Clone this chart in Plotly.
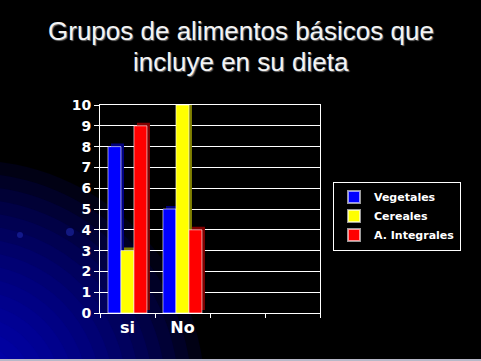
import plotly.graph_objects as go

# ---- data ----
categories = ["si", "No", " ", "  "]
series_names = ["Vegetales", "Cereales", "A. Integrales"]
vegetales = [8, 5]
cereales = [3, 10]
integrales = [9, 4]
y_ticks = list(range(0, 11))

front_colors = ["#0000ff", "#ffff00", "#ff0000"]
side_colors = ["#000080", "#808000", "#800000"]
values = [vegetales, cereales, integrales]

W, H = 481, 361
L, R, T, B = 100, 320, 105, 313


def px_x(x):
    return (x - L) / (R - L)


def px_y(y):
    return (B - y) / (B - T)


fig = go.Figure()

bar_w = 0.236
offsets = [-0.355, -0.119, 0.117]

# depth (side) faces first
for i in range(3):
    fig.add_trace(go.Bar(
        x=categories[:2], y=values[i], base=0.15,
        offset=offsets[i] + 0.055, width=bar_w,
        marker=dict(color=side_colors[i], line=dict(width=0)),
        showlegend=False, hoverinfo="skip"))

# front faces
for i in range(3):
    fig.add_trace(go.Bar(
        x=categories[:2], y=values[i], name=series_names[i],
        offset=offsets[i], width=bar_w,
        marker=dict(color=front_colors[i],
                    line=dict(color="rgba(255,255,255,0.6)", width=1))))

# background radial gradient (lower-left)
shapes = []
cx, cy = -30, 395
for k in range(16):
    r = 235 - k * 13
    shapes.append(dict(type="circle", xref="paper", yref="paper", layer="below",
                       x0=px_x(cx - r), x1=px_x(cx + r),
                       y0=px_y(cy + r), y1=px_y(cy - r),
                       fillcolor="rgb(10,10,220)", opacity=0.09,
                       line=dict(width=0)))
# faint decorative dots
for (dx, dy, rr) in [(20, 235, 3), (70, 232, 4)]:
    shapes.append(dict(type="circle", xref="paper", yref="paper", layer="below",
                       x0=px_x(dx - rr), x1=px_x(dx + rr),
                       y0=px_y(dy + rr), y1=px_y(dy - rr),
                       fillcolor="rgb(30,40,170)", opacity=0.6,
                       line=dict(width=0)))
# bottom light strip
shapes.append(dict(type="rect", xref="paper", yref="paper", layer="below",
                   x0=px_x(0), x1=px_x(W), y0=px_y(361), y1=px_y(359),
                   fillcolor="#b8b8c8", line=dict(width=0)))

title_font = dict(family="Liberation Sans, Arial, sans-serif", size=26,
                  color="#f4f4f4", shadow="1px 1px 1px #707070")
annotations = [
    dict(text="Grupos de alimentos básicos que", x=px_x(240.5), y=px_y(31),
         xref="paper", yref="paper", showarrow=False, font=title_font,
         xanchor="center", yanchor="middle"),
    dict(text="incluye en su dieta", x=px_x(240.5), y=px_y(62),
         xref="paper", yref="paper", showarrow=False, font=title_font,
         xanchor="center", yanchor="middle"),
]

fig.update_layout(
    width=W, height=H,
    margin=dict(l=L, r=W - R, t=T, b=H - B, pad=0),
    paper_bgcolor="#000000", plot_bgcolor="#000000",
    barmode="overlay",
    shapes=shapes, annotations=annotations,
    showlegend=True,
    legend=dict(x=px_x(333), y=px_y(216), xanchor="left", yanchor="middle",
                bgcolor="#000000", bordercolor="#ffffff", borderwidth=1,
                font=dict(family="DejaVu Sans, sans-serif", size=11,
                          color="#ffffff", weight="bold"),
                tracegroupgap=0, itemwidth=30, itemsizing="constant"),
    xaxis=dict(type="category", categoryorder="array", categoryarray=categories,
               range=[-0.5, 3.5], showgrid=False, showline=True, mirror=True,
               linecolor="#ffffff", linewidth=1, ticks="outside",
               tickson="boundaries", ticklen=4, tickcolor="#ffffff",
               tickfont=dict(family="DejaVu Sans, sans-serif", size=16,
                             color="#ffffff", weight="bold"),
               fixedrange=True, zeroline=False),
    yaxis=dict(range=[0, 10], tickvals=y_ticks, showgrid=True,
               gridcolor="#ffffff", gridwidth=1, showline=True, mirror=True,
               linecolor="#ffffff", linewidth=1, ticks="outside", ticklen=5,
               tickcolor="#ffffff",
               tickfont=dict(family="DejaVu Sans, sans-serif", size=14,
                             color="#ffffff", weight="bold"),
               zeroline=False, fixedrange=True),
)

fig.write_html("out.html", config={"displayModeBar": False},
               post_script="document.body.style.margin='0px';document.body.style.background='#000';")
